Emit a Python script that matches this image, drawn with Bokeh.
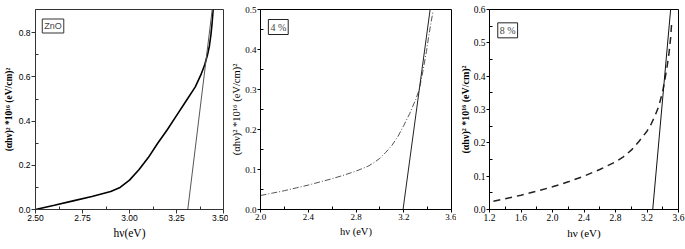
import numpy as np
from bokeh.plotting import figure
from bokeh.layouts import row
from bokeh.models import Label, Range1d, FixedTicker, PrintfTickFormatter
from bokeh.embed import file_html
from bokeh.resources import INLINE

# ---------------- data ----------------
# Panel 1: ZnO
zno_hv = [2.50, 2.60, 2.70, 2.80, 2.90, 2.95, 3.00, 3.05, 3.10, 3.15, 3.20,
          3.25, 3.30, 3.35, 3.38, 3.40, 3.415, 3.425, 3.433, 3.439, 3.445]
zno_y = [0.000, 0.019, 0.039, 0.059, 0.081, 0.100, 0.133, 0.180, 0.235, 0.300,
         0.360, 0.425, 0.490, 0.555, 0.610, 0.655, 0.700, 0.740, 0.790, 0.840, 0.905]
zno_fit_hv = [3.31, 3.44]
zno_fit_y = [0.0, 0.905]

# Panel 2: 4 %
p4_hv = [2.00, 2.10, 2.20, 2.30, 2.40, 2.50, 2.60, 2.70, 2.80, 2.90, 2.95, 3.00,
         3.05, 3.10, 3.15, 3.20, 3.25, 3.30, 3.33, 3.36, 3.39, 3.41, 3.43, 3.445]
p4_y = [0.035, 0.041, 0.047, 0.054, 0.061, 0.069, 0.077, 0.086, 0.096, 0.108,
        0.117, 0.128, 0.143, 0.160, 0.182, 0.210, 0.240, 0.275, 0.300, 0.345,
        0.395, 0.435, 0.470, 0.495]
p4_fit_hv = [3.194, 3.421]
p4_fit_y = [0.0, 0.5]

# Panel 3: 8 %
p8_hv = [1.25, 1.40, 1.60, 1.80, 2.00, 2.20, 2.40, 2.60, 2.80, 2.90, 3.00,
         3.10, 3.20, 3.25, 3.30, 3.35, 3.40, 3.45, 3.48, 3.50, 3.515]
p8_y = [0.025, 0.032, 0.043, 0.055, 0.068, 0.083, 0.100, 0.120, 0.143, 0.158,
        0.178, 0.205, 0.235, 0.255, 0.280, 0.310, 0.355, 0.420, 0.470, 0.515, 0.565]
p8_fit_hv = [3.273, 3.50]
p8_fit_y = [0.0, 0.6]

# ticks
zno_xticks = [2.50, 2.75, 3.00, 3.25, 3.50]
zno_yticks = [0.0, 0.2, 0.4, 0.6, 0.8]
p4_xticks = [2.0, 2.4, 2.8, 3.2, 3.6]
p4_yticks = [0.0, 0.1, 0.2, 0.3, 0.4, 0.5]
p8_xticks = [1.2, 1.6, 2.0, 2.4, 2.8, 3.2, 3.6]
p8_yticks = [0.0, 0.1, 0.2, 0.3, 0.4, 0.5, 0.6]

ylab = "(\u03b1h\u03bd)\u00b2 *10\u00b9\u2076 (eV/cm)\u00b2"
SERIF = "Liberation Serif"
SANS_N = "Liberation Sans Narrow, Liberation Sans"


def minors(ticks):
    t = np.array(ticks)
    return list((t[:-1] + t[1:]) / 2)


def make_fig(width, lb, rb, tb, bb, xr, yr, xticks, yticks, xfmt, yfmt,
             tick_font, tick_size, axis_color="black", tick_out=4):
    p = figure(width=width, height=249, x_range=Range1d(*xr), y_range=Range1d(*yr),
               output_backend="svg", toolbar_location=None,
               min_border_left=lb, min_border_right=rb,
               min_border_top=tb, min_border_bottom=bb)
    p.grid.visible = False
    p.outline_line_color = axis_color
    p.outline_line_width = 1
    p.outline_line_alpha = 1
    p.background_fill_color = "white"
    p.border_fill_color = "white"
    p.xaxis.ticker = FixedTicker(ticks=xticks, minor_ticks=minors(xticks))
    p.yaxis.ticker = FixedTicker(ticks=yticks, minor_ticks=minors(yticks))
    p.xaxis.formatter = PrintfTickFormatter(format=xfmt)
    p.yaxis.formatter = PrintfTickFormatter(format=yfmt)
    for ax in (p.xaxis[0], p.yaxis[0]):
        ax.axis_line_color = axis_color
        ax.major_tick_line_color = axis_color
        ax.minor_tick_line_color = axis_color
        ax.major_tick_out = tick_out
        ax.major_tick_in = 0
        ax.minor_tick_out = 0
        ax.minor_tick_in = 3
        ax.major_label_text_font = tick_font
        ax.major_label_text_font_size = tick_size
        ax.major_label_text_color = "black"
        ax.major_label_standoff = 1
        ax.axis_label_text_color = "black"
    return p


def set_labels(p, xlab, xsize, ysize, ybold, ystandoff):
    p.xaxis.axis_label = xlab
    p.xaxis.axis_label_text_font = SERIF
    p.xaxis.axis_label_text_font_style = "normal"
    p.xaxis.axis_label_text_font_size = xsize
    p.xaxis.axis_label_standoff = 3
    p.yaxis.axis_label = ylab
    p.yaxis.axis_label_text_font = SERIF
    p.yaxis.axis_label_text_font_style = "bold" if ybold else "normal"
    p.yaxis.axis_label_text_font_size = ysize
    p.yaxis.axis_label_standoff = ystandoff


# ---------------- panel 1 ----------------
p1 = make_fig(228, 33, 5, 5, 37, (2.5, 3.5), (0.0, 0.905), zno_xticks, zno_yticks,
              "%.2f", "%.1f", SANS_N, "8.5px", axis_color="#333333")
p1.line(zno_hv, zno_y, line_color="black", line_width=1.6)
p1.line(zno_fit_hv, zno_fit_y, line_color="#555555", line_width=1)
set_labels(p1, "h\u03bd(eV)", "11.5px", "9.5px", True, 2)
p1.add_layout(Label(x=2.536, y=0.862, text="ZnO", text_align="left", text_baseline="top",
                    text_font="Liberation Sans", text_font_size="9px",
                    border_line_color="#333333", border_line_width=1,
                    background_fill_color="white", padding=2))

# ---------------- panel 2 ----------------
p2 = make_fig(228, 31, 5, 6, 37, (2.0, 3.6), (0.0, 0.5), p4_xticks, p4_yticks,
              "%.1f", "%.1f", SERIF, "9px", tick_out=3)
p2.line(p4_hv, p4_y, line_color="#555555", line_width=1, line_dash="6 2 1 2")
p2.line(p4_fit_hv, p4_fit_y, line_color="#222222", line_width=1)
set_labels(p2, "h\u03bd (eV)", "10.5px", "10.5px", False, 0)
p2.add_layout(Label(x=2.066, y=0.475, text="4 %", text_align="left", text_baseline="top",
                    text_font=SERIF, text_font_size="10px",
                    border_line_color="#222222", border_line_width=1,
                    background_fill_color="white", padding=2))

# ---------------- panel 3 ----------------
p3 = make_fig(229, 31, 7, 9, 40, (1.2, 3.6), (0.0, 0.6), p8_xticks, p8_yticks,
              "%.1f", "%.1f", SERIF, "9.5px", tick_out=3)
p3.line(p8_hv, p8_y, line_color="#222222", line_width=1.5, line_dash="7 5")
p3.line(p8_fit_hv, p8_fit_y, line_color="#111111", line_width=1)
set_labels(p3, "h\u03bd (eV)", "11px", "10px", True, 0)
p3.add_layout(Label(x=1.305, y=0.560, text="8 %", text_align="left", text_baseline="top",
                    text_font=SERIF, text_font_size="10px",
                    border_line_color="#222222", border_line_width=1,
                    background_fill_color="white", padding=2))

layout = row(p1, p2, p3)
open("out.html", "w").write(file_html(layout, INLINE))
